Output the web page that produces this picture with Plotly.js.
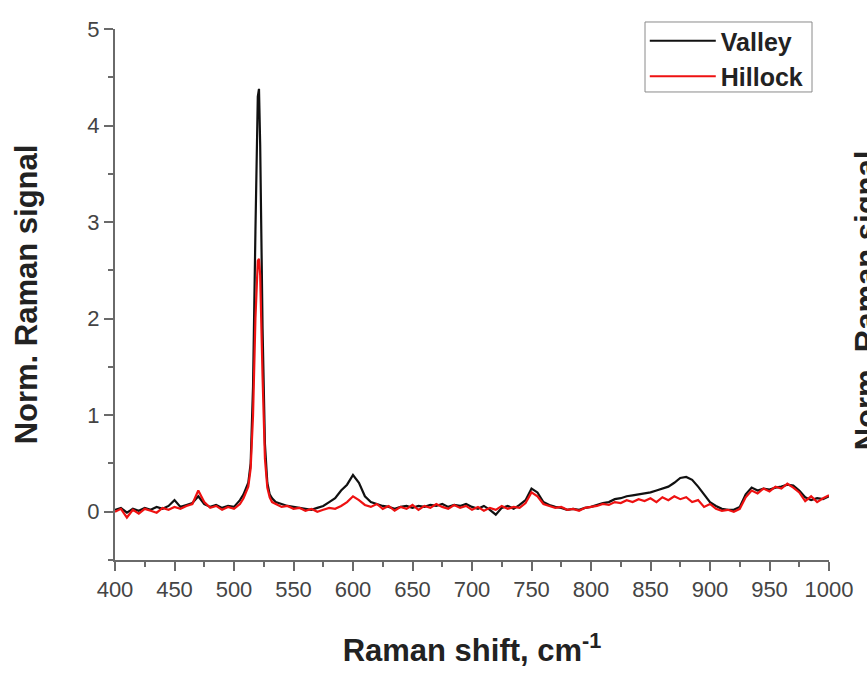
<!DOCTYPE html>
<html>
<head>
<meta charset="utf-8">
<script src="https://cdn.plot.ly/plotly-3.0.1.min.js"></script>
<style>html,body{margin:0;padding:0;background:#fff;}#chart{width:867px;height:674px;}</style>
</head>
<body>
<div id="chart"></div>
<script>
const ramanShift = [400,405,410,415,420,425,430,435,440,445,450,455,460,465,470,475,480,485,490,495,500,505,
  508,510,512,514,516,518,520,521,522,524,526,528,530,532,
  535,540,545,550,555,560,565,570,575,580,585,590,595,600,605,610,615,620,625,630,635,640,645,650,655,660,665,670,675,680,685,690,695,700,
  705,710,715,720,725,730,735,740,745,750,755,760,765,770,775,780,785,790,795,800,805,810,815,820,825,830,835,840,845,850,
  855,860,865,870,875,880,885,890,895,900,905,910,915,920,925,930,935,940,945,950,955,960,965,970,975,980,985,990,995,1000];

const valley = [0.02,0.04,-0.01,0.03,0.01,0.04,0.02,0.05,0.03,0.06,0.12,0.05,0.07,0.09,0.16,0.08,0.05,0.07,0.04,0.06,0.05,0.12,
  0.18,0.24,0.30,0.50,1.30,2.90,4.30,4.38,3.80,1.90,0.70,0.30,0.18,0.14,
  0.10,0.08,0.06,0.05,0.04,0.03,0.02,0.04,0.06,0.10,0.14,0.22,0.28,0.38,0.30,0.16,0.10,0.08,0.06,0.05,0.03,0.05,0.06,0.04,0.06,0.05,0.07,0.06,0.08,0.05,0.07,0.06,0.08,0.05,
  0.03,0.06,0.02,-0.03,0.04,0.06,0.03,0.07,0.12,0.24,0.20,0.10,0.07,0.05,0.04,0.02,0.03,0.02,0.04,0.05,0.07,0.09,0.10,0.13,0.14,0.16,0.17,0.18,0.19,0.20,
  0.22,0.24,0.26,0.30,0.35,0.36,0.33,0.26,0.18,0.10,0.06,0.03,0.02,0.02,0.05,0.18,0.25,0.22,0.24,0.23,0.25,0.26,0.28,0.27,0.22,0.15,0.12,0.14,0.13,0.16];

const hillock = [0.00,0.03,-0.06,0.02,-0.02,0.03,0.01,-0.01,0.04,0.02,0.05,0.03,0.06,0.08,0.22,0.10,0.04,0.06,0.02,0.05,0.03,0.08,
  0.14,0.20,0.26,0.45,1.00,2.00,2.60,2.62,2.45,1.40,0.55,0.25,0.15,0.10,
  0.08,0.05,0.06,0.03,0.04,0.01,0.03,0.00,0.02,0.04,0.03,0.06,0.10,0.16,0.12,0.07,0.05,0.08,0.03,0.06,0.01,0.05,0.03,0.07,0.02,0.06,0.04,0.08,0.05,0.03,0.07,0.04,0.06,0.02,
  0.05,0.01,0.04,0.02,0.06,0.03,0.05,0.04,0.09,0.20,0.16,0.08,0.06,0.04,0.05,0.02,0.03,0.01,0.04,0.05,0.06,0.08,0.07,0.10,0.09,0.12,0.10,0.13,0.11,0.14,
  0.10,0.15,0.12,0.16,0.13,0.15,0.10,0.12,0.05,0.08,0.03,0.01,0.02,0.00,0.03,0.15,0.22,0.19,0.24,0.21,0.26,0.24,0.29,0.25,0.20,0.11,0.16,0.10,0.14,0.17];

const seriesNames = ["Valley", "Hillock"];
const xTitle = "Raman shift, cm<sup>-1</sup>";
const yTitle = "Norm. Raman signal";

const FONT = "'Liberation Sans', Arial, Helvetica, sans-serif";

const traces = [
  {x: ramanShift, y: valley, name: seriesNames[0], type: "scatter", mode: "lines",
   line: {color: "#111111", width: 2.2}},
  {x: ramanShift, y: hillock, name: seriesNames[1], type: "scatter", mode: "lines",
   line: {color: "#ee1111", width: 2.2}}
];

const axisCommon = {
  showline: true, linecolor: "#6a6a6a", linewidth: 2,
  showgrid: false, zeroline: false,
  ticks: "outside", ticklen: 9, tickwidth: 2, tickcolor: "#6a6a6a",
  tickfont: {family: FONT, size: 22, color: "#444444"},
  mirror: false
};

const layout = {
  width: 867, height: 674,
  margin: {l: 115, r: 38, t: 29, b: 114},
  paper_bgcolor: "#ffffff", plot_bgcolor: "#ffffff",
  showlegend: true,
  legend: {
    x: 0.742, y: 1.0207, xanchor: "left", yanchor: "top",
    bgcolor: "rgba(0,0,0,0)", borderwidth: 0,
    font: {family: FONT, size: 25, color: "#222222", weight: "bold"},
    itemwidth: 66, tracegroupgap: 0
  },
  shapes: [{
    type: "rect", xref: "paper", yref: "paper", layer: "below",
    x0: 0.7423, x1: 0.9762, y0: 0.8814, y1: 1.0132,
    line: {color: "#8a8a8a", width: 1}, fillcolor: "#ffffff"
  }],
  xaxis: Object.assign({}, axisCommon, {
    range: [400, 1000], tick0: 400, dtick: 50,
    minor: {ticks: "outside", dtick: 25, ticklen: 5, tickwidth: 2, tickcolor: "#6a6a6a"},
    title: {text: xTitle, standoff: 38, font: {family: FONT, size: 31, color: "#222222", weight: "bold"}}
  }),
  yaxis: Object.assign({}, axisCommon, {
    range: [-0.5, 5], tick0: 0, dtick: 1,
    minor: {ticks: "outside", dtick: 0.5, ticklen: 5, tickwidth: 2, tickcolor: "#6a6a6a"},
    title: {text: yTitle, standoff: 40, font: {family: FONT, size: 31, color: "#222222", weight: "bold"}}
  }),
  annotations: [{
    text: yTitle, xref: "paper", yref: "paper",
    x: 1.025, y: 0.4896, xanchor: "left", yanchor: "middle",
    textangle: -90, showarrow: false,
    font: {family: FONT, size: 31, color: "#222222", weight: "bold"}
  }]
};

Plotly.newPlot("chart", traces, layout, {displayModeBar: false, staticPlot: true});
</script>
</body>
</html>
